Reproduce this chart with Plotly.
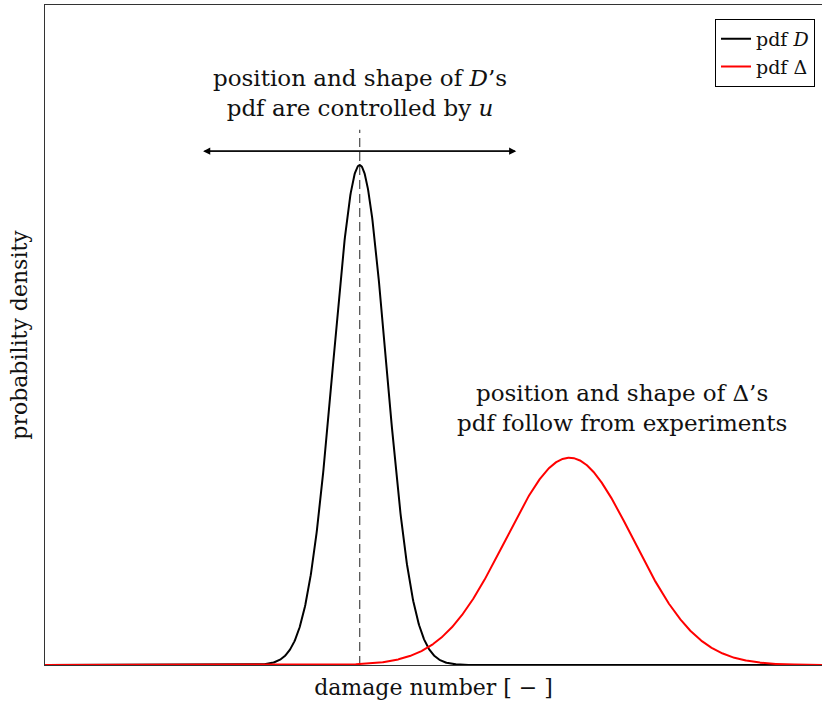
import numpy as np
import plotly.graph_objects as go

# Normal distributions (mean, standard deviation) in damage-number units
d_mean, d_std = 4.05, 0.34          # pdf of D
delta_mean, delta_std = 6.75, 0.82  # pdf of Delta
x_range = [0.0, 10.0]
y_range = [0.0, 1.549]

# Controls of D's pdf: arrow span and guide line height
arrow_half_span = 2.015
arrow_level = 1.206
guide_top = 1.256

legend_names = ["pdf <i>D</i>", "pdf Δ"]
x_title = "damage number [ − ]"
y_title = "probability density"
note_d = "position and shape of <i>D</i>’s<br>pdf are controlled by <i>u</i>"
note_delta = "position and shape of Δ’s<br>pdf follow from experiments"


def normal_pdf(x, mu, sigma):
    return np.exp(-0.5 * ((x - mu) / sigma) ** 2) / (sigma * np.sqrt(2 * np.pi))


x = np.linspace(x_range[0], x_range[1], 2001)
font_family = "DejaVu Serif"

fig = go.Figure()
fig.add_trace(go.Scatter(x=x, y=normal_pdf(x, d_mean, d_std), mode="lines",
                         line=dict(color="#000000", width=2), name=legend_names[0]))
fig.add_trace(go.Scatter(x=x, y=normal_pdf(x, delta_mean, delta_std), mode="lines",
                         line=dict(color="#ff0000", width=2), name=legend_names[1]))

# Dashed guide through the mean of D
fig.add_shape(type="line", x0=d_mean, x1=d_mean, y0=0, y1=guide_top,
              line=dict(color="#555555", width=1.3, dash="9px,5px"), layer="below")

# Double-headed arrow showing that D's pdf can be shifted
for tail, head in [(d_mean - arrow_half_span, d_mean + arrow_half_span),
                   (d_mean + arrow_half_span, d_mean - arrow_half_span)]:
    fig.add_annotation(x=head, y=arrow_level, ax=tail, ay=arrow_level,
                       xref="x", yref="y", axref="x", ayref="y",
                       showarrow=True, arrowhead=2, arrowsize=1.1, arrowwidth=1.3,
                       arrowcolor="#000000", text="")

fig.add_annotation(x=d_mean, y=1.342, xref="x", yref="y", text=note_d,
                   showarrow=False, font=dict(family=font_family, size=23, color="#111"),
                   align="center", yanchor="middle")
fig.add_annotation(x=7.43, y=0.603, xref="x", yref="y", text=note_delta,
                   showarrow=False, font=dict(family=font_family, size=23, color="#111"),
                   align="center", yanchor="middle")

fig.update_layout(
    width=822, height=704,
    margin=dict(l=45, r=0, t=5, b=39),
    paper_bgcolor="white", plot_bgcolor="white",
    font=dict(family=font_family, color="#111"),
    showlegend=True,
    legend=dict(x=0.991, y=0.979, xanchor="right", yanchor="top",
                bordercolor="#000000", borderwidth=1, bgcolor="white",
                font=dict(family=font_family, size=19), tracegroupgap=0),
)
fig.update_xaxes(range=x_range, showgrid=False, zeroline=False, showticklabels=False,
                 ticks="", showline=True, linecolor="#333333", linewidth=1, mirror=True,
                 title=dict(text=x_title, font=dict(family=font_family, size=22), standoff=14))
fig.update_yaxes(range=y_range, showgrid=False, zeroline=False, showticklabels=False,
                 ticks="", showline=True, linecolor="#333333", linewidth=1,
                 title=dict(text=y_title, font=dict(family=font_family, size=22), standoff=10))

fig.write_html("out.html")
